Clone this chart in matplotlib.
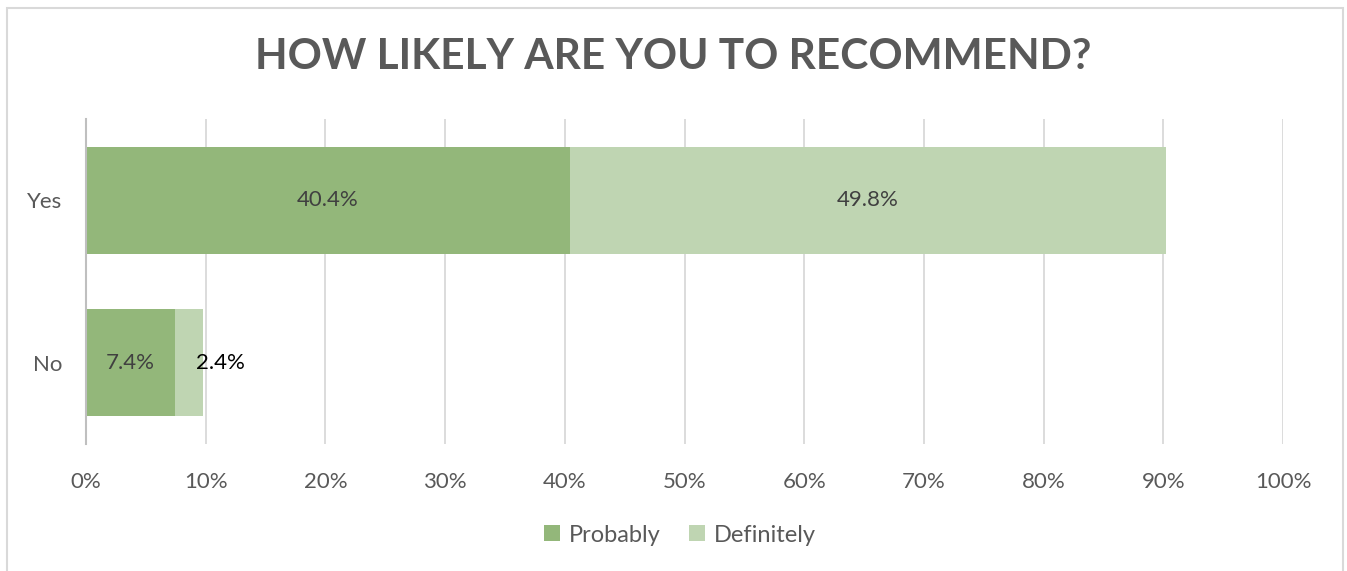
import matplotlib
matplotlib.use('Agg')
import matplotlib.pyplot as plt
from matplotlib.patches import Rectangle

plt.rcParams['font.family'] = ['Lato', 'DejaVu Sans']

# data
categories = ['No', 'Yes']
probably = [7.4, 40.4]
definitely = [2.4, 49.8]
series_names = ['Probably', 'Definitely']
ticks = list(range(0, 101, 10))

c_prob = '#93B77A'
c_def = '#BFD5B2'
txt = '#595959'

fig = plt.figure(figsize=(13.47, 5.71), dpi=100)
ax = fig.add_axes([86/1347, 1-444/571, 1197/1347, 325/571])

y = range(len(categories))
b1 = ax.barh(y, probably, height=0.66, color=c_prob, label=series_names[0], zorder=2)
b2 = ax.barh(y, definitely, left=probably, height=0.66, color=c_def, label=series_names[1], zorder=2)

for i in y:
    ax.text(probably[i]/2, i, f'{probably[i]}%', ha='center', va='center',
            fontsize=16, color='#404040', zorder=3)
    if definitely[i] > 5:
        ax.text(probably[i] + definitely[i]/2, i, f'{definitely[i]}%', ha='center',
                va='center', fontsize=16, color='#404040', zorder=3)
    else:
        # small segment: label spills out to the right
        ax.text(probably[i] + definitely[i]/2 + 2.6, i, f'{definitely[i]}%', ha='center',
                va='center', fontsize=16, color='black', zorder=3)

ax.set_xlim(0, 100)
ax.set_ylim(-0.5, 1.5)
ax.set_xticks(ticks)
ax.set_xticklabels([f'{t}%' for t in ticks])
ax.set_yticks(list(y))
ax.set_yticklabels(categories)
ax.tick_params(axis='both', length=0, labelsize=16, labelcolor=txt)
ax.tick_params(axis='x', pad=20)
ax.tick_params(axis='y', pad=17)
ax.grid(axis='x', color='#D9D9D9', linewidth=1.3, zorder=0)
for s in ['top', 'right', 'bottom']:
    ax.spines[s].set_visible(False)
ax.spines['left'].set_color('#BFBFBF')
ax.spines['left'].set_linewidth(1.5)
ax.spines['left'].set_zorder(4)

fig.text(0.5, 1-57/571, 'HOW LIKELY ARE YOU TO RECOMMEND?', ha='center', va='center',
         fontsize=30.5, fontweight='bold', color=txt)

fig.legend(handles=[b1, b2], loc='center', bbox_to_anchor=(0.505, 1-535/571), ncol=2,
           frameon=False, fontsize=17, labelcolor=txt, handlelength=0.65, handleheight=0.65,
           handletextpad=0.4, columnspacing=1.2)

fig.patches.append(Rectangle((7/1347, -0.01), 1336/1347, 1-8/571+0.01, transform=fig.transFigure,
                             fill=False, edgecolor='#D9D9D9', linewidth=1.5))

fig.savefig('out.png', dpi=100)
